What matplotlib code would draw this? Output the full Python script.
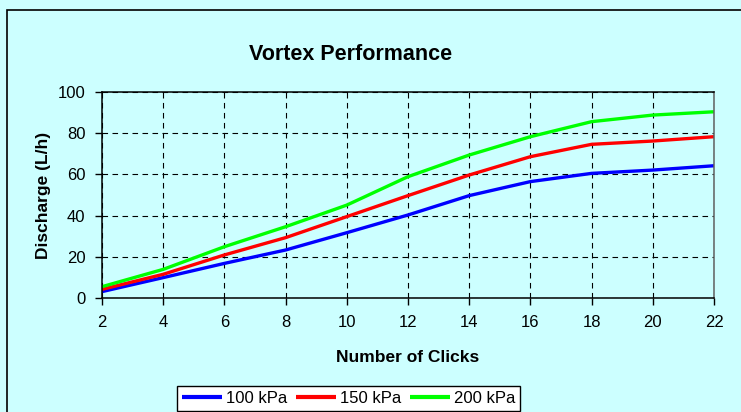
import matplotlib
matplotlib.use("Agg")
import matplotlib.pyplot as plt
from matplotlib.patches import Rectangle

plt.rcParams['font.family'] = ['Liberation Sans', 'DejaVu Sans']

clicks = [2, 4, 6, 8, 10, 12, 14, 16, 18, 20, 22]
kpa100 = [3.1, 9.9, 16.8, 23.3, 31.7, 40.3, 49.7, 56.5, 60.5, 62.1, 64.2]
kpa150 = [4.2, 11.5, 20.9, 29.3, 39.5, 49.7, 59.7, 68.6, 74.6, 76.2, 78.3]
kpa200 = [5.5, 13.9, 24.9, 34.6, 45.1, 58.9, 69.4, 78.3, 85.6, 88.8, 90.4]
series_labels = ['100 kPa', '150 kPa', '200 kPa']
series_colors = ['#0000FF', '#FF0000', '#00FF00']
yticks = [0, 20, 40, 60, 80, 100]
xticks = [2, 4, 6, 8, 10, 12, 14, 16, 18, 20, 22]

W, H = 741, 412
bg = '#CCFFFF'
fig = plt.figure(figsize=(W / 100, H / 100), dpi=100)
fig.patch.set_facecolor(bg)

# outer chart-area border (cropped at right and bottom)
fig.patches.append(Rectangle((7 / W, -0.05), 1.0, 1 - 10 / H + 0.05,
                             transform=fig.transFigure, fill=False,
                             edgecolor='black', linewidth=1.2))

ax = fig.add_axes([102 / W, 1 - 298 / H, (714 - 102) / W, (298 - 92) / H])
ax.set_facecolor(bg)

for vals, lab, col in zip([kpa100, kpa150, kpa200], series_labels, series_colors):
    ax.plot(clicks, vals, color=col, linewidth=2.4, label=lab, solid_capstyle='butt')

ax.set_xlim(2, 22)
ax.set_ylim(0, 100)
ax.set_xticks(xticks)
ax.set_yticks(yticks)
ax.grid(True, color='black', linestyle=(0, (5, 4)), linewidth=0.8)
ax.tick_params(direction='out', length=5, width=1, labelsize=12, pad=7, colors='black')
for s in ['left', 'bottom', 'top']:
    ax.spines[s].set_color('black')
    ax.spines[s].set_linewidth(1.1)
ax.spines['right'].set_color('#606060')
ax.spines['right'].set_linewidth(1.1)

ax.set_xlabel('Number of Clicks', fontsize=12.5, fontweight='bold', labelpad=15)
ax.set_ylabel('Discharge (L/h)', fontsize=12.5, fontweight='bold', labelpad=5)

fig.text(351 / W, 1 - 54 / H, 'Vortex Performance', ha='center', va='center',
         fontsize=15.5, fontweight='bold')

leg = fig.legend(loc='upper left', bbox_to_anchor=(177 / W, 1 - 386 / H), ncol=3,
                 fontsize=12, frameon=True, fancybox=False, handlelength=2.4,
                 columnspacing=0.5, handletextpad=0.25, borderpad=0.3,
                 borderaxespad=0)
leg.get_frame().set_edgecolor('black')
leg.get_frame().set_facecolor('white')
leg.get_frame().set_linewidth(1.0)
leg.get_frame().set_alpha(1)
for h in leg.get_lines():
    h.set_linewidth(3)

fig.savefig('out.png', dpi=100, facecolor=bg)
